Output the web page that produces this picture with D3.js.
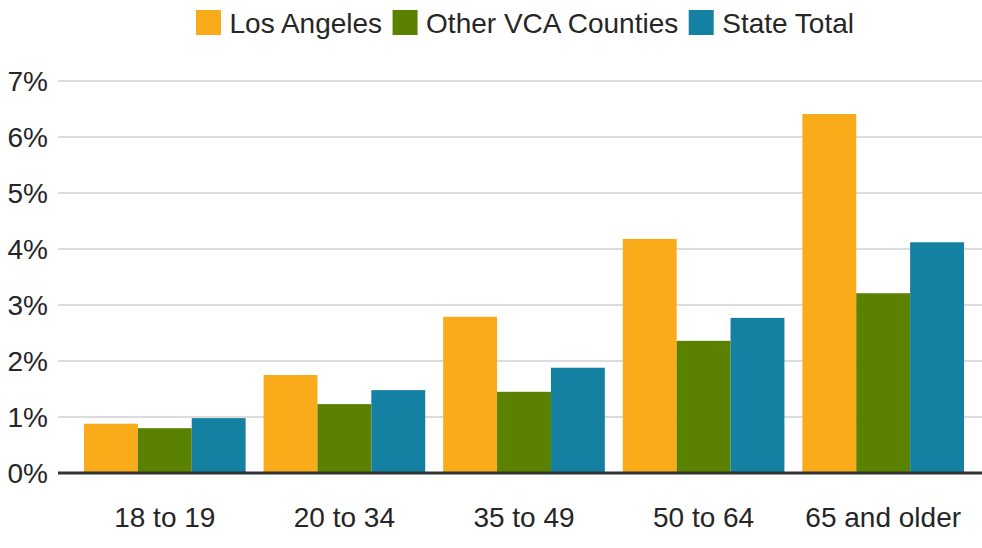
<!DOCTYPE html>
<html lang="en">
<head>
    <meta charset="UTF-8">
    <title>Vote share by age</title>
    <script src="https://d3js.org/d3.v7.min.js"></script>
    <style>
        body { margin: 0; background: #fff; }
        svg text { font-family: "Liberation Sans", Arial, sans-serif; fill: #262626; }
    </style>
</head>
<body>
    <svg id="chart"></svg>
    <script>
        const width = 982;
        const height = 548;

        const ageGroups = ['18 to 19', '20 to 34', '35 to 49', '50 to 64', '65 and older'];
        const seriesNames = ['Los Angeles', 'Other VCA Counties', 'State Total'];
        const losAngeles = [0.88, 1.75, 2.79, 4.18, 6.41];
        const otherVca = [0.80, 1.23, 1.45, 2.36, 3.21];
        const stateTotal = [0.98, 1.48, 1.88, 2.77, 4.12];
        const colors = ['#f9ab1a', '#5a8200', '#1480a2'];
        const yTicks = [0, 1, 2, 3, 4, 5, 6, 7];

        const allSeries = [losAngeles, otherVca, stateTotal];

        const svg = d3.select('#chart')
            .attr('width', width)
            .attr('height', height);

        const x = d3.scaleBand()
            .domain(ageGroups)
            .range([75, 973])
            .paddingInner(0.1)
            .paddingOuter(0.05);

        const xSub = d3.scaleBand()
            .domain(seriesNames)
            .range([0, x.bandwidth()]);

        const y = d3.scaleLinear()
            .domain([0, 7])
            .range([473, 81]);

        // gridlines + y labels
        svg.append('g')
            .selectAll('line')
            .data(yTicks.filter(d => d > 0))
            .join('line')
            .attr('x1', 58)
            .attr('x2', width)
            .attr('y1', d => y(d))
            .attr('y2', d => y(d))
            .attr('stroke', '#d0d0d0')
            .attr('stroke-width', 1.6);

        svg.append('g')
            .selectAll('text')
            .data(yTicks)
            .join('text')
            .attr('x', 48)
            .attr('y', d => y(d))
            .attr('dy', '0.36em')
            .attr('text-anchor', 'end')
            .attr('font-size', 28)
            .text(d => d + '%');

        // bars
        const groups = svg.append('g')
            .selectAll('g')
            .data(ageGroups)
            .join('g')
            .attr('transform', d => `translate(${x(d)},0)`);

        groups.selectAll('rect')
            .data((d, i) => seriesNames.map((s, j) => ({ s, v: allSeries[j][i], c: colors[j] })))
            .join('rect')
            .attr('x', d => xSub(d.s))
            .attr('width', xSub.bandwidth())
            .attr('y', d => y(d.v))
            .attr('height', d => y(0) - y(d.v))
            .attr('fill', d => d.c);

        // baseline
        svg.append('line')
            .attr('x1', 58)
            .attr('x2', width)
            .attr('y1', y(0))
            .attr('y2', y(0))
            .attr('stroke', '#333')
            .attr('stroke-width', 3);

        // x labels
        svg.append('g')
            .selectAll('text')
            .data(ageGroups)
            .join('text')
            .attr('x', d => x(d) + x.bandwidth() / 2)
            .attr('y', 527)
            .attr('text-anchor', 'middle')
            .attr('font-size', 28)
            .text(d => d);

        // legend
        const legend = svg.append('g').attr('transform', 'translate(196,0)');
        let lx = 0;
        seriesNames.forEach((name, i) => {
            const item = legend.append('g').attr('transform', `translate(${lx},0)`);
            item.append('rect')
                .attr('x', 0).attr('y', 10)
                .attr('width', 25).attr('height', 25)
                .attr('fill', colors[i]);
            const t = item.append('text')
                .attr('x', 33.5).attr('y', 33)
                .attr('font-size', 28)
                .text(name);
            lx += 33.5 + t.node().getComputedTextLength() + 10.5;
        });
    </script>
</body>
</html>
